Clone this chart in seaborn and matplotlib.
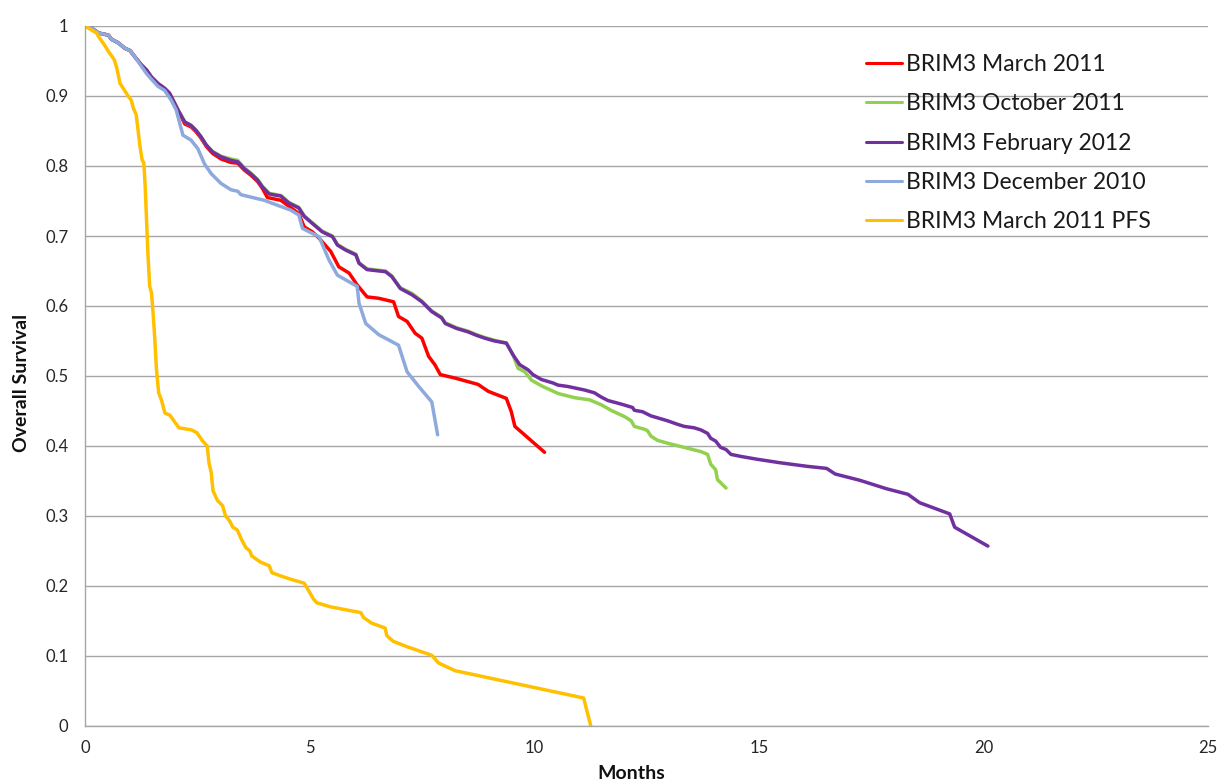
import numpy as np
import pandas as pd
import matplotlib
matplotlib.use("Agg")
import matplotlib.pyplot as plt
import seaborn as sns
from matplotlib.lines import Line2D

# ---------------- data ----------------
mar2011_x = [0, 0.15, 0.30, 0.52, 0.59, 0.74, 0.89, 1.0, 1.11, 1.26, 1.37, 1.48, 1.62, 1.77, 1.88, 1.96,
             2.07, 2.22, 2.36, 2.47, 2.58, 2.70, 2.84, 3.03, 3.25, 3.40, 3.55, 3.69, 3.84, 3.95, 4.06,
             4.36, 4.76, 4.88, 5.06, 5.21, 5.47, 5.65, 5.88, 6.06, 6.28, 6.54, 6.87, 6.98, 7.17, 7.35,
             7.50, 7.65, 7.79, 7.91, 8.24, 8.75, 8.98, 9.38, 9.49, 9.57, 10.23]
mar2011_y = [1.0, 0.997, 0.99, 0.987, 0.981, 0.976, 0.968, 0.965, 0.956, 0.944, 0.937, 0.927, 0.918, 0.911,
             0.904, 0.894, 0.880, 0.860, 0.856, 0.849, 0.840, 0.828, 0.818, 0.810, 0.805, 0.804, 0.794,
             0.787, 0.778, 0.768, 0.755, 0.751, 0.732, 0.713, 0.706, 0.697, 0.678, 0.656, 0.647, 0.630,
             0.613, 0.611, 0.606, 0.585, 0.578, 0.561, 0.554, 0.528, 0.516, 0.502, 0.497, 0.488, 0.478,
             0.468, 0.449, 0.428, 0.391]

oct2011_x = [0, 0.15, 0.30, 0.52, 0.59, 0.74, 0.89, 1.0, 1.11, 1.26, 1.37, 1.48, 1.62, 1.77, 1.88, 1.96,
             2.07, 2.22, 2.36, 2.47, 2.58, 2.70, 2.84, 3.03, 3.25, 3.40, 3.55, 3.69, 3.84, 3.95, 4.10,
             4.36, 4.54, 4.76, 4.88, 5.06, 5.28, 5.51, 5.62, 5.80, 6.03, 6.10, 6.28, 6.69, 6.83, 7.02,
             7.28, 7.50, 7.72, 7.94, 8.02, 8.27, 8.53, 8.72, 8.90, 9.12, 9.38, 9.53, 9.64, 9.79, 9.94,
             10.16, 10.53, 10.90, 11.23, 11.49, 11.71, 12.01, 12.16, 12.23, 12.45, 12.52, 12.60, 12.75,
             12.97, 13.34, 13.71, 13.86, 13.93, 14.04, 14.08, 14.27]
oct2011_y = [1.0, 0.997, 0.99, 0.987, 0.981, 0.976, 0.968, 0.965, 0.956, 0.944, 0.937, 0.927, 0.918, 0.911,
             0.904, 0.894, 0.880, 0.863, 0.858, 0.851, 0.842, 0.830, 0.821, 0.814, 0.810, 0.808, 0.797,
             0.790, 0.781, 0.771, 0.761, 0.758, 0.748, 0.741, 0.729, 0.719, 0.707, 0.700, 0.688, 0.681,
             0.674, 0.662, 0.653, 0.650, 0.643, 0.626, 0.618, 0.607, 0.593, 0.584, 0.576, 0.569, 0.564,
             0.559, 0.555, 0.551, 0.547, 0.530, 0.511, 0.506, 0.494, 0.486, 0.475, 0.469, 0.466, 0.459,
             0.451, 0.442, 0.436, 0.428, 0.424, 0.422, 0.414, 0.408, 0.404, 0.398, 0.392, 0.388, 0.374,
             0.366, 0.352, 0.340]

feb2012_x = [0, 0.15, 0.30, 0.52, 0.59, 0.74, 0.89, 1.0, 1.11, 1.26, 1.37, 1.48, 1.62, 1.77, 1.88, 1.96,
             2.07, 2.22, 2.36, 2.47, 2.58, 2.70, 2.84, 3.03, 3.25, 3.40, 3.55, 3.69, 3.84, 3.95, 4.10,
             4.36, 4.54, 4.76, 4.88, 5.06, 5.28, 5.51, 5.62, 5.80, 6.03, 6.10, 6.28, 6.69, 6.83, 7.02,
             7.28, 7.50, 7.72, 7.94, 8.02, 8.27, 8.53, 8.72, 8.90, 9.12, 9.38, 9.53, 9.68, 9.86, 9.97,
             10.16, 10.42, 10.53, 10.75, 11.12, 11.34, 11.49, 11.64, 11.93, 12.19, 12.23, 12.41, 12.60,
             12.97, 13.19, 13.34, 13.56, 13.71, 13.86, 13.93, 14.04, 14.15, 14.27, 14.38, 14.61, 14.97,
             15.48, 16.07, 16.51, 16.70, 17.25, 17.84, 18.32, 18.58, 19.25, 19.36, 20.10]
feb2012_y = [1.0, 0.997, 0.99, 0.987, 0.981, 0.976, 0.968, 0.965, 0.956, 0.944, 0.937, 0.927, 0.918, 0.911,
             0.904, 0.894, 0.880, 0.863, 0.858, 0.851, 0.842, 0.830, 0.820, 0.813, 0.808, 0.806, 0.796,
             0.789, 0.780, 0.770, 0.760, 0.757, 0.747, 0.740, 0.728, 0.718, 0.706, 0.699, 0.687, 0.680,
             0.673, 0.661, 0.652, 0.649, 0.642, 0.625, 0.616, 0.606, 0.592, 0.583, 0.575, 0.568, 0.563,
             0.558, 0.554, 0.550, 0.547, 0.530, 0.516, 0.509, 0.502, 0.495, 0.490, 0.487, 0.485, 0.480,
             0.476, 0.470, 0.465, 0.460, 0.455, 0.451, 0.449, 0.443, 0.436, 0.431, 0.428, 0.426, 0.423,
             0.418, 0.411, 0.407, 0.398, 0.395, 0.388, 0.385, 0.381, 0.376, 0.371, 0.368, 0.360, 0.351,
             0.339, 0.331, 0.319, 0.303, 0.284, 0.257]

dec2010_x = [0, 0.15, 0.30, 0.52, 0.59, 0.74, 0.89, 1.0, 1.11, 1.26, 1.37, 1.48, 1.62, 1.77, 1.92, 2.03,
             2.18, 2.36, 2.51, 2.66, 2.81, 3.03, 3.25, 3.40, 3.47, 3.99, 4.28, 4.58, 4.76, 4.84, 4.99,
             5.21, 5.43, 5.62, 6.06, 6.10, 6.25, 6.54, 6.98, 7.17, 7.43, 7.72, 7.85]
dec2010_y = [1.0, 0.997, 0.99, 0.987, 0.981, 0.976, 0.968, 0.965, 0.956, 0.942, 0.932, 0.924, 0.914, 0.908,
             0.894, 0.880, 0.844, 0.837, 0.825, 0.803, 0.789, 0.775, 0.766, 0.764, 0.759, 0.751, 0.744,
             0.737, 0.730, 0.711, 0.706, 0.699, 0.666, 0.644, 0.628, 0.604, 0.575, 0.559, 0.544, 0.506,
             0.485, 0.463, 0.416]

pfs_x = [0, 0.15, 0.26, 0.30, 0.41, 0.48, 0.55, 0.65, 0.70, 0.74, 0.78, 0.87, 0.96, 1.03, 1.07, 1.14,
         1.18, 1.22, 1.27, 1.31, 1.34, 1.37, 1.40, 1.44, 1.48, 1.51, 1.55, 1.59, 1.64, 1.70, 1.78, 1.89,
         2.09, 2.37, 2.49, 2.62, 2.72, 2.76, 2.81, 2.85, 2.95, 3.06, 3.13, 3.22, 3.29, 3.39, 3.48, 3.58,
         3.67, 3.71, 3.91, 4.10, 4.16, 4.33, 4.56, 4.88, 5.00, 5.08, 5.16, 5.48, 6.14, 6.20, 6.38, 6.68,
         6.72, 6.86, 7.18, 7.72, 7.87, 8.24, 11.10, 11.26]
pfs_y = [1.0, 0.994, 0.99, 0.985, 0.975, 0.968, 0.961, 0.952, 0.942, 0.930, 0.918, 0.909, 0.900, 0.894,
         0.884, 0.873, 0.852, 0.830, 0.809, 0.804, 0.771, 0.723, 0.676, 0.628, 0.619, 0.595, 0.557, 0.510,
         0.476, 0.466, 0.447, 0.444, 0.426, 0.423, 0.419, 0.407, 0.400, 0.376, 0.362, 0.336, 0.322, 0.315,
         0.300, 0.293, 0.284, 0.280, 0.267, 0.255, 0.250, 0.243, 0.234, 0.229, 0.219, 0.215, 0.210, 0.204,
         0.191, 0.182, 0.176, 0.170, 0.162, 0.155, 0.147, 0.140, 0.129, 0.121, 0.113, 0.101, 0.090, 0.079,
         0.040, 0.0]

series_names = ["BRIM3 March 2011", "BRIM3 October 2011", "BRIM3 February 2012",
                "BRIM3 December 2010", "BRIM3 March 2011 PFS"]
series_x = [mar2011_x, oct2011_x, feb2012_x, dec2010_x, pfs_x]
series_y = [mar2011_y, oct2011_y, feb2012_y, dec2010_y, pfs_y]
colors = ["#FF0000", "#92D050", "#7030A0", "#8EA9DB", "#FFC000"]

x_ticks = [0, 5, 10, 15, 20, 25]
y_ticks = [0, 0.1, 0.2, 0.3, 0.4, 0.5, 0.6, 0.7, 0.8, 0.9, 1.0]
y_tick_labels = ["0", "0.1", "0.2", "0.3", "0.4", "0.5", "0.6", "0.7", "0.8", "0.9", "1"]

frames = []
for name, xs, ys in zip(series_names, series_x, series_y):
    assert len(xs) == len(ys), name
    frames.append(pd.DataFrame({"Months": xs, "Survival": ys, "Series": name}))
df = pd.concat(frames, ignore_index=True)

# ---------------- plot ----------------
sns.set_style("white")
plt.rcParams["font.family"] = ["Lato", "DejaVu Sans"]

W, H = 1219, 780
L, R, T, B = 85, 1208, 26, 726
fig = plt.figure(figsize=(W / 100, H / 100), dpi=100)
ax = fig.add_axes([L / W, 1 - B / H, (R - L) / W, (B - T) / H])

sns.lineplot(data=df, x="Months", y="Survival", hue="Series", hue_order=series_names,
             palette=colors, sort=False, estimator=None, units="Series", linewidth=2.5,
             ax=ax, legend=False)

ax.set_xlim(0, 25)
ax.set_ylim(0, 1)
ax.set_xticks(x_ticks)
ax.set_xticklabels([str(t) for t in x_ticks])
ax.set_yticks(y_ticks)
ax.set_yticklabels(y_tick_labels)
ax.tick_params(axis="both", length=0, labelsize=12, colors="#262626")
ax.tick_params(axis="x", pad=10)
ax.tick_params(axis="y", pad=12)
ax.yaxis.grid(True, color="#A6A6A6", linewidth=1.0)
ax.xaxis.grid(False)
ax.set_axisbelow(True)
for s in ["top", "right"]:
    ax.spines[s].set_visible(False)
for s in ["left", "bottom"]:
    ax.spines[s].set_color("#A6A6A6")
    ax.spines[s].set_linewidth(1.0)

ax.set_xlabel("Months", fontsize=14, fontweight="bold", color="#111111")
ax.xaxis.set_label_coords((631 - L) / (R - L), (B - 765) / (B - T))
ax.xaxis.label.set_va("top")
ax.set_ylabel("Overall Survival", fontsize=14, fontweight="bold", color="#111111")
ax.yaxis.set_label_coords((30 - L) / (R - L), (B - 383) / (B - T))

handles = [Line2D([0], [0], color=c, linewidth=2.2) for c in colors]
leg = fig.legend(handles, series_names, loc="upper left", bbox_to_anchor=(845 / W, 1 - 33.5 / H),
                 frameon=False, fontsize=16.5, handlelength=1.6, handletextpad=0.15, labelspacing=0.8)
for t in leg.get_texts():
    t.set_color("#1a1a1a")

fig.savefig("out.png", dpi=100)
